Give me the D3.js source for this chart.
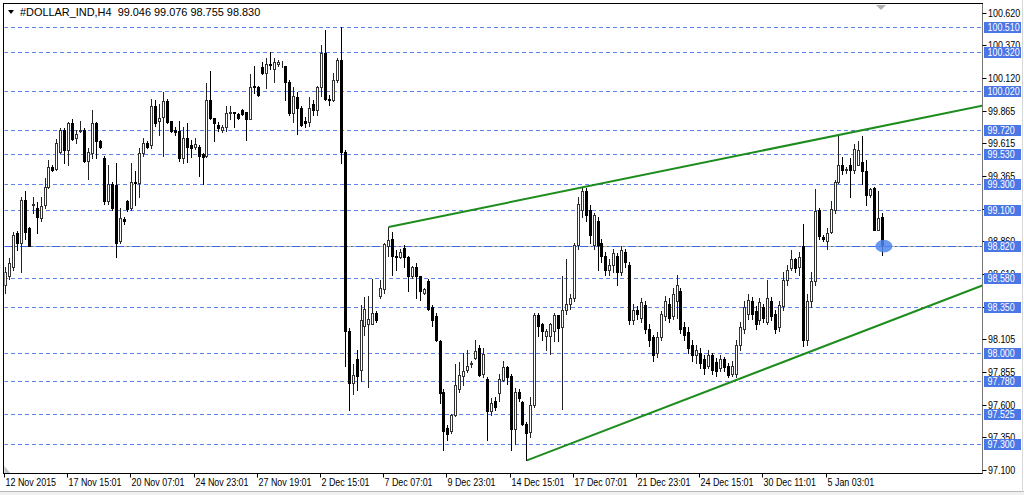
<!DOCTYPE html>
<html><head><meta charset="utf-8">
<script src="https://cdn.jsdelivr.net/npm/d3@7"></script>
<style>
html,body{margin:0;padding:0;background:#fff;}
svg{display:block;}
text{font-family:"Liberation Sans",Arial,sans-serif;}
</style></head>
<body>
<svg id="chart" width="1024" height="495"></svg>
<script>
// ---- data (H4 bars) ----
const opens = [98.52,98.59,98.66,98.92,98.85,99.18,98.96,99.14,99.12,99.04,99.14,99.28,99.43,99.42,99.55,99.72,99.56,99.77,99.66,99.71,
99.72,99.48,99.54,99.77,99.63,99.50,99.17,99.30,99.29,98.86,99.03,99.17,99.12,99.32,99.31,99.54,99.62,99.60,99.90,99.79,
99.82,99.94,99.79,99.72,99.71,99.50,99.66,99.60,99.59,99.59,99.53,99.52,99.95,99.81,99.76,99.72,99.74,99.85,99.86,99.84,
99.87,99.86,99.80,100.06,100.05,100.20,100.16,100.23,100.19,100.23,100.23,100.21,100.09,99.85,99.97,99.89,99.79,99.78,99.92,99.87,
100.05,100.31,99.96,99.95,100.10,100.26,99.55,98.17,97.77,97.95,97.87,98.21,98.22,98.22,98.31,98.44,98.49,98.82,98.88,98.75,
98.74,98.81,98.74,98.59,98.66,98.59,98.46,98.55,98.35,98.28,98.09,97.70,97.42,97.40,97.52,97.72,97.82,97.87,97.91,97.96,
98.04,97.84,97.80,97.55,97.63,97.69,97.79,97.89,97.82,97.41,97.70,97.62,97.45,97.39,97.60,98.29,98.22,98.13,98.13,98.17,
98.29,98.20,98.33,98.38,98.42,98.83,99.10,99.25,99.10,98.83,99.02,98.85,98.75,98.64,98.68,98.75,98.62,98.78,98.68,98.25,
98.33,98.27,98.37,98.18,98.12,98.00,98.12,98.28,98.38,98.28,98.40,98.48,98.20,98.16,98.06,97.98,98.00,97.95,97.90,97.98,
97.93,97.88,97.95,97.90,97.84,97.84,98.06,98.18,98.30,98.40,98.32,98.25,98.35,98.24,98.40,98.30,98.20,98.36,98.56,98.65,
98.72,98.66,98.82,98.10,98.40,98.55,99.10,98.89,98.86,98.93,99.10,99.32,99.45,99.41,99.45,99.41,99.45,99.47,99.40,99.22,
99.27,98.95,99.046];
const highs = [98.66,98.73,98.93,98.94,99.20,99.25,98.97,99.20,99.16,99.20,99.35,99.49,99.45,99.65,99.73,99.73,99.78,99.80,99.72,99.79,
99.73,99.58,99.87,99.78,99.64,99.52,99.45,99.32,99.46,99.12,99.05,99.18,99.46,99.40,99.58,99.66,99.63,99.96,99.95,99.92,
100.01,99.96,99.79,99.74,99.79,99.74,99.77,99.64,99.66,99.60,99.54,100.08,100.17,99.81,99.78,99.76,99.90,99.90,99.86,99.85,
99.88,99.86,100.15,100.21,100.06,100.24,100.27,100.32,100.27,100.26,100.25,100.21,100.10,100.05,100.01,99.90,99.82,99.97,99.95,100.06,
100.37,100.49,99.99,100.16,100.27,100.51,99.56,98.19,97.91,98.02,98.37,98.43,98.44,98.57,98.32,98.56,98.85,98.97,98.93,98.79,
98.80,98.83,98.75,98.67,98.69,98.59,98.50,98.57,98.37,98.31,98.10,97.72,97.44,97.53,97.91,97.93,98.00,98.02,97.94,98.10,
98.06,98.04,97.81,97.65,97.66,97.84,97.94,97.90,97.84,97.73,97.72,97.63,97.47,97.66,98.31,98.31,98.23,98.18,98.23,98.31,
98.29,98.59,98.72,98.45,98.85,99.20,99.28,99.27,99.14,99.08,99.05,98.88,98.78,98.72,98.80,98.77,98.82,98.80,98.70,98.38,
98.36,98.42,98.40,98.22,98.14,98.16,98.32,98.44,98.42,98.50,98.60,98.50,98.24,98.20,98.10,98.06,98.04,97.98,98.02,98.00,
97.96,97.98,97.97,97.92,97.94,98.10,98.24,98.40,98.45,98.43,98.36,98.42,98.38,98.56,98.43,98.33,98.40,98.62,98.68,98.79,
98.73,98.78,98.99,98.45,98.62,99.26,99.12,98.91,98.96,99.17,99.33,99.68,99.51,99.43,99.50,99.61,99.63,99.67,99.49,99.27,
99.28,99.25,99.076];
const lows = [98.46,98.57,98.64,98.79,98.62,98.88,98.82,99.08,98.92,99.02,99.12,99.27,99.40,99.41,99.54,99.46,99.45,99.64,99.62,99.70,
99.47,99.34,99.50,99.50,99.58,99.15,99.15,99.10,98.74,98.85,98.99,99.09,99.10,99.14,99.20,99.52,99.58,99.58,99.75,99.68,
99.52,99.77,99.70,99.68,99.48,99.46,99.47,99.51,99.57,99.36,99.30,99.51,99.80,99.63,99.71,99.70,99.71,99.80,99.74,99.80,
99.83,99.64,99.80,100.00,99.98,100.15,100.04,100.19,100.09,100.21,100.20,99.95,99.83,99.78,99.69,99.75,99.74,99.75,99.83,99.83,
99.98,99.95,99.91,99.94,100.09,99.46,97.90,97.56,97.68,97.71,97.78,98.14,97.74,98.22,98.24,98.42,98.46,98.75,98.60,98.64,
98.73,98.66,98.48,98.58,98.42,98.41,98.45,98.33,98.21,98.09,97.61,97.25,97.33,97.38,97.51,97.70,97.75,97.85,97.89,97.95,
97.82,97.81,97.33,97.52,97.56,97.63,97.78,97.76,97.25,97.30,97.63,97.44,97.17,97.35,97.58,98.13,98.10,98.02,97.99,98.09,
98.09,97.57,98.30,98.34,98.40,98.80,99.05,99.02,98.85,98.80,98.64,98.70,98.60,98.60,98.62,98.52,98.60,98.66,98.22,98.22,
98.26,98.24,98.15,98.05,97.94,97.97,98.10,98.25,98.24,98.26,98.27,98.15,98.10,98.00,97.94,97.92,97.88,97.84,97.88,97.84,
97.82,97.86,97.86,97.81,97.82,97.81,98.02,98.15,98.26,98.26,98.18,98.22,98.24,98.22,98.25,98.15,98.17,98.33,98.52,98.64,
98.62,98.60,98.05,98.06,98.35,98.52,98.88,98.86,98.80,98.92,99.08,99.31,99.38,99.39,99.20,99.39,99.45,99.30,99.14,99.20,
98.95,98.95,98.755];
const closes = [98.62,98.69,98.91,98.85,99.18,98.93,98.82,99.15,99.05,99.13,99.28,99.43,99.41,99.62,99.72,99.56,99.77,99.65,99.69,99.72,
99.48,99.55,99.77,99.63,99.59,99.17,99.30,99.12,98.85,99.04,99.02,99.11,99.32,99.31,99.54,99.62,99.59,99.90,99.77,99.81,
99.94,99.78,99.71,99.70,99.50,99.66,99.59,99.58,99.61,99.52,99.51,99.95,99.81,99.77,99.73,99.74,99.85,99.86,99.85,99.81,
99.84,99.80,100.05,100.05,99.99,100.16,100.23,100.22,100.24,100.24,100.23,100.09,99.85,99.98,99.89,99.76,99.77,99.89,99.87,100.05,
100.31,99.96,99.95,100.10,100.26,99.55,98.17,97.77,97.83,97.82,98.25,98.34,98.26,98.31,98.25,98.50,98.84,98.87,98.75,98.74,
98.78,98.74,98.59,98.66,98.59,98.48,98.49,98.34,98.25,98.10,97.69,97.40,97.37,97.52,97.75,97.83,97.86,97.90,97.92,98.01,
97.83,97.99,97.55,97.61,97.58,97.80,97.89,97.81,97.41,97.70,97.65,97.45,97.38,97.60,98.29,98.21,98.17,98.17,98.22,98.29,
98.19,98.33,98.38,98.42,98.83,99.15,99.25,99.06,98.91,99.06,98.83,98.75,98.64,98.68,98.77,98.62,98.79,98.70,98.25,98.33,
98.30,98.39,98.18,98.10,97.98,98.12,98.30,98.40,98.27,98.45,98.52,98.18,98.14,98.04,97.98,98.02,97.92,97.88,97.98,97.87,
97.86,97.95,97.89,97.83,97.90,98.06,98.20,98.35,98.41,98.30,98.22,98.39,98.27,98.42,98.28,98.18,98.37,98.56,98.64,98.72,
98.65,98.74,98.10,98.40,98.55,99.09,98.90,98.88,98.92,99.11,99.32,99.45,99.41,99.42,99.41,99.57,99.56,99.40,99.22,99.26,
98.95,99.04,98.830];

const levelPrices = [100.510,100.320,100.020,99.720,99.530,99.300,99.100,98.820,98.580,98.350,98.000,97.780,97.525,97.300];
const yTickValues = [100.620,100.370,100.120,99.865,99.615,99.365,99.110,98.860,98.610,98.355,98.105,97.855,97.600,97.350,97.100];
const xTickLabels = ["12 Nov 2015","17 Nov 15:01","20 Nov 07:01","24 Nov 23:01","27 Nov 19:01","2 Dec 15:01","7 Dec 07:01",
  "9 Dec 23:01","14 Dec 15:01","17 Dec 07:01","21 Dec 23:01","24 Dec 15:01","30 Dec 11:01","5 Jan 03:01"];
const xTickBars = [0,16,32,48,64,80,96,112,128,144,160,176,192,208];
// trend lines: [bar index, price] anchor pairs (rays to the right)
const upperTrend = [[97, 98.97],[211, 99.68]];
const lowerTrend = [[132, 97.17],[185, 97.79]];
const hLineStart = [6, 98.82];
const titleText = "#DOLLAR_IND,H4  99.046 99.076 98.755 98.830";

// ---- layout ----
const L = 4, R = 982.5, T = 4, B = 473.5;
const FS = 10.5, SX = 0.85;   // font size, horizontal squeeze (narrow UI font look)
const svg = d3.select("#chart");
const n = closes.length;
const x = d3.scaleLinear().domain([0, n - 1]).range([5.5, 5.5 + 3.95 * (n - 1)]);
const y = d3.scaleLinear().domain([97.100, 100.620]).range([469.5, 13]);

function label(parent, tx, ty, str, fill, sx) {
  return parent.append("text")
    .attr("transform", `translate(${tx},${ty}) scale(${sx},1)`)
    .attr("font-size", FS).attr("fill", fill).style("white-space","pre").text(str);
}

svg.append("rect").attr("x",0).attr("y",0).attr("width",1024).attr("height",495).attr("fill","#fff");
// outer window frame
svg.append("line").attr("x1",0).attr("x2",1024).attr("y1",491.5).attr("y2",491.5).attr("stroke","#b9b9b9");
svg.append("rect").attr("x",0).attr("y",492).attr("width",1024).attr("height",3).attr("fill","#f0f0f0");
svg.append("line").attr("x1",1022.5).attr("x2",1022.5).attr("y1",0).attr("y2",492).attr("stroke","#d8d8d8");

svg.append("defs").append("clipPath").attr("id","plot")
  .append("rect").attr("x",L+0.5).attr("y",T+0.5).attr("width",R-L-1).attr("height",B-T-1);

const plot = svg.append("g").attr("clip-path","url(#plot)");

// horizontal level lines
levelPrices.forEach(p => {
  const yy = Math.round(y(p)) + 0.5;
  const isMain = Math.abs(p - 98.82) < 1e-6;
  if (isMain) {
    plot.append("line").attr("x1", x(hLineStart[0])).attr("x2", R).attr("y1", yy).attr("y2", yy)
      .attr("stroke","#b4b4b4").attr("stroke-width",1);
  }
  plot.append("line").attr("x1",L).attr("x2",R).attr("y1",yy).attr("y2",yy)
    .attr("stroke", isMain ? "#3a66e0" : "#5d84ec").attr("stroke-width",1)
    .attr("stroke-dasharray", isMain ? "8,3,2,3" : "4,3");
});

// candles
const g = plot.append("g");
for (let i = 0; i < n; i++) {
  const cx = Math.floor(x(i)) + 0.5;
  const o = opens[i], c = closes[i], h = highs[i], l = lows[i];
  const bull = c >= o;
  g.append("line").attr("x1",cx).attr("x2",cx)
    .attr("y1", Math.round(y(h))).attr("y2", Math.round(y(l)) + 1)
    .attr("stroke", bull ? "#222" : "#000").attr("stroke-width",1);
  const yt = Math.round(y(Math.max(o,c))), yb = Math.round(y(Math.min(o,c)));
  if (bull) {
    g.append("rect").attr("x", cx - 1).attr("y", yt + 0.5).attr("width", 2).attr("height", Math.max(0, yb - yt))
      .attr("fill","#fff").attr("stroke","#333").attr("stroke-width",1);
  } else {
    g.append("rect").attr("x", cx - 1.5).attr("y", yt).attr("width", 3).attr("height", Math.max(1, yb - yt + 1))
      .attr("fill","#000");
  }
}

// trend lines (rays)
function ray(a) {
  const x1 = x(a[0][0]), y1 = y(a[0][1]), x2 = x(a[1][0]), y2 = y(a[1][1]);
  const s = (y2 - y1) / (x2 - x1);
  plot.append("line").attr("x1",x1).attr("y1",y1).attr("x2",R).attr("y2", y1 + s * (R - x1))
    .attr("stroke","#1c8c1c").attr("stroke-width",2);
}
ray(upperTrend); ray(lowerTrend);

// last price marker
plot.append("ellipse").attr("cx", x(n - 1) + 1.5).attr("cy", y(closes[n - 1]) + 1)
  .attr("rx", 8.5).attr("ry", 6.3).attr("fill","#4f86ee").attr("opacity",0.85);

// frame
svg.append("rect").attr("x",L - 0.5).attr("y",T - 0.5).attr("width",R - L + 0.5).attr("height",B - T + 0.5)
  .attr("fill","none").attr("stroke","#000").attr("stroke-width",1);
svg.append("line").attr("x1",R).attr("x2",R).attr("y1",T).attr("y2",B).attr("stroke","#777");

// chart shift marker & corner
svg.append("path").attr("d","M876,5 L886,5 L881,10 Z").attr("fill","#b0b0b0");
svg.append("path").attr("d","M4.5,466 L4.5,473 L10,473 Z").attr("fill","#c0c0c0");

// title
svg.append("path").attr("d","M8,10 L14,10 L11,14 Z").attr("fill","#000");
label(svg, 20, 16, titleText, "#000", 1.04);

// right axis ticks
const ax = svg.append("g");
yTickValues.forEach(v => {
  const yy = Math.round(y(v)) + 0.5;
  ax.append("line").attr("x1",R).attr("x2",R + 4).attr("y1",yy).attr("y2",yy).attr("stroke","#000");
  label(ax, 988, yy + 3.7, v.toFixed(3), "#000", SX);
});
// level labels
levelPrices.forEach(p => {
  const yy = Math.round(y(p)) + 0.5;
  ax.append("rect").attr("x",984).attr("y",yy - 5.5).attr("width",37).attr("height",11).attr("fill","#4a76e6");
  label(ax, 987.5, yy + 3.7, p.toFixed(3), "#fff", SX);
});

// bottom axis
const bx = svg.append("g");
xTickBars.forEach((b, k) => {
  const xx = Math.floor(x(b)) - 0.5;
  bx.append("line").attr("x1",xx).attr("x2",xx).attr("y1",B).attr("y2",B + 4).attr("stroke","#000");
  label(bx, xx + 1, 486, xTickLabels[k], "#000", SX);
});
</script>
</body></html>
